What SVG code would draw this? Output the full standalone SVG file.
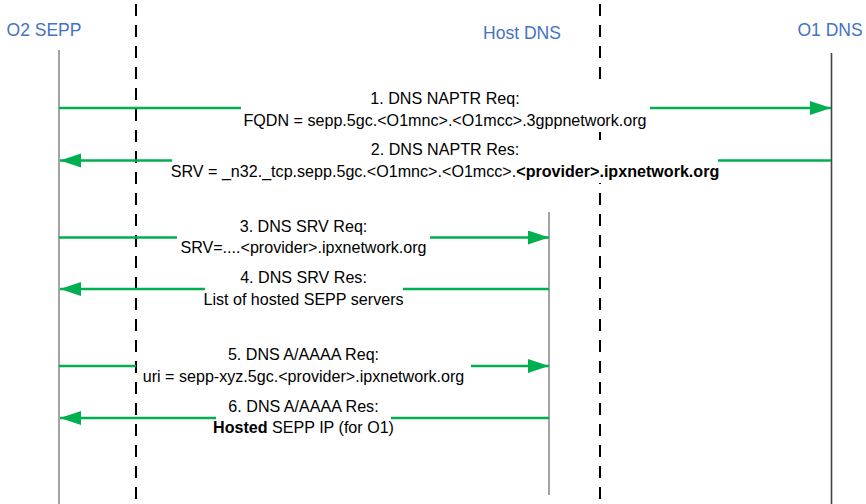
<svg xmlns="http://www.w3.org/2000/svg" width="866" height="504" viewBox="0 0 866 504">
<style>
.title{font-family:"Liberation Sans",Arial,sans-serif;font-size:17.5px;fill:#4472C4;text-anchor:middle}
.lbl{font-family:"Liberation Sans",Arial,sans-serif;font-size:16.1px;fill:#000;text-anchor:middle}
.b{font-weight:bold}
.life{stroke:#8c8c8c;stroke-width:1.6;fill:none}
.dash{stroke:#000;stroke-width:2;stroke-dasharray:12 9;fill:none}
.msg{stroke:#00B050;stroke-width:2.6;fill:none}
.bg{fill:#fff}
</style>
<defs>
<marker id="ah" markerUnits="userSpaceOnUse" markerWidth="22" markerHeight="16" refX="21" refY="7" orient="auto">
<path d="M0,0 L21,7 L0,14 Z" fill="#00B050"/>
</marker>
</defs>
<g id="boundaries">
<line class="dash" x1="136" y1="4" x2="136" y2="500"/>
<line class="dash" x1="600" y1="4" x2="600" y2="500"/>
</g>
<g id="O2SEPP">
<text class="title" x="44" y="35.5">O2 SEPP</text>
<line class="life" x1="59" y1="50" x2="59" y2="504"/>
</g>
<g id="HostDNS">
<text class="title" x="522" y="39">Host DNS</text>
<line class="life" x1="549" y1="212" x2="549" y2="495"/>
</g>
<g id="O1DNS">
<text class="title" x="830" y="35.5">O1 DNS</text>
<line class="life" x1="831.5" y1="53" x2="831.5" y2="504" style="stroke:#444"/>
</g>
<g id="connectors">
<line class="msg" x1="59" y1="108" x2="241" y2="108"/>
<line class="msg" x1="650" y1="108" x2="831" y2="108" marker-end="url(#ah)"/>
<line class="msg" x1="831" y1="160.5" x2="718" y2="160.5"/>
<line class="msg" x1="172" y1="160.5" x2="60" y2="160.5" marker-end="url(#ah)"/>
<line class="msg" x1="59" y1="237.5" x2="177" y2="237.5"/>
<line class="msg" x1="430" y1="237.5" x2="549" y2="237.5" marker-end="url(#ah)"/>
<line class="msg" x1="549" y1="289" x2="403" y2="289"/>
<line class="msg" x1="205" y1="289" x2="60" y2="289" marker-end="url(#ah)"/>
<line class="msg" x1="59" y1="366" x2="136" y2="366"/>
<line class="msg" x1="471" y1="366" x2="549" y2="366" marker-end="url(#ah)"/>
<line class="msg" x1="549" y1="418" x2="391" y2="418"/>
<line class="msg" x1="216" y1="418" x2="60" y2="418" marker-end="url(#ah)"/>
</g>
<g id="labels">
<rect class="bg" x="241" y="85" width="409" height="47"/>
<text class="lbl" x="445" y="104">1. DNS NAPTR Req:</text>
<text class="lbl" x="445" y="125.5">FQDN = sepp.5gc.&lt;O1mnc&gt;.&lt;O1mcc&gt;.3gppnetwork.org</text>
<rect class="bg" x="172" y="140" width="546" height="43"/>
<text class="lbl" x="445" y="155">2. DNS NAPTR Res:</text>
<text class="lbl" x="445" y="176.5">SRV = _n32._tcp.sepp.5gc.&lt;O1mnc&gt;.&lt;O1mcc&gt;.<tspan class="b">&lt;provider&gt;.ipxnetwork.org</tspan></text>
<text class="lbl" x="303.5" y="231.5">3. DNS SRV Req:</text>
<text class="lbl" x="303.5" y="253">SRV=....&lt;provider&gt;.ipxnetwork.org</text>
<text class="lbl" x="303.5" y="283">4. DNS SRV Res:</text>
<text class="lbl" x="303.5" y="305">List of hosted SEPP servers</text>
<text class="lbl" x="303.5" y="360">5. DNS A/AAAA Req:</text>
<text class="lbl" x="303.5" y="381.5">uri = sepp-xyz.5gc.&lt;provider&gt;.ipxnetwork.org</text>
<text class="lbl" x="303.5" y="411.5">6. DNS A/AAAA Res:</text>
<text class="lbl" x="303.5" y="433"><tspan class="b">Hosted</tspan> SEPP IP (for O1)</text>
</g>
</svg>
